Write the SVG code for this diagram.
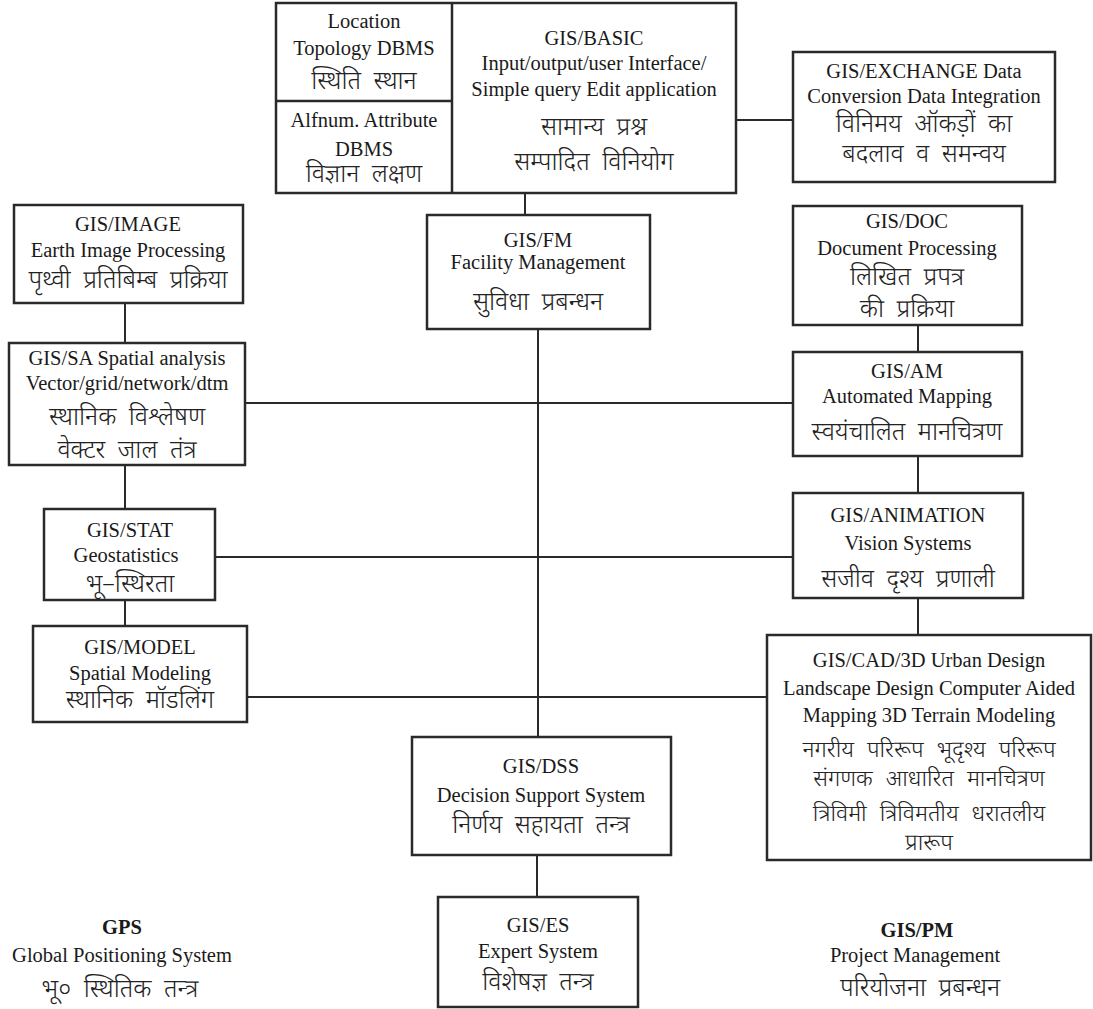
<svg xmlns="http://www.w3.org/2000/svg" width="1093" height="1009" viewBox="0 0 1093 1009">
<style>
.box{fill:#fff;stroke:#2a2a2a;stroke-width:2.5}
.ln{stroke:#2a2a2a;stroke-width:2;fill:none}
text{text-anchor:middle;fill:#1a1a1a}
.e{font-family:"Liberation Serif","Times New Roman",serif;font-size:20.5px}
.b{font-family:"Liberation Serif","Times New Roman",serif;font-size:20.5px;font-weight:bold}
.h{font-family:"Noto Sans Devanagari","Noto Serif Devanagari","Lohit Devanagari","Noto Sans",sans-serif;font-size:25px;font-weight:300;word-spacing:6px;fill:#222}
.hs{font-size:23px;word-spacing:7px}
</style>
<rect width="1093" height="1009" fill="#fff"/>
<g id="connectors">
<line class="ln" x1="525" y1="193" x2="525" y2="215"/>
<line class="ln" x1="538" y1="329" x2="538" y2="737"/>
<line class="ln" x1="537" y1="855" x2="537" y2="897"/>
<line class="ln" x1="736" y1="120" x2="793" y2="120"/>
<line class="ln" x1="125" y1="303" x2="125" y2="343"/>
<line class="ln" x1="125" y1="465" x2="125" y2="509"/>
<line class="ln" x1="125" y1="600" x2="125" y2="626"/>
<line class="ln" x1="918" y1="325" x2="918" y2="352"/>
<line class="ln" x1="918" y1="456" x2="918" y2="493"/>
<line class="ln" x1="918" y1="598" x2="918" y2="635"/>
<line class="ln" x1="245" y1="403" x2="793" y2="403"/>
<line class="ln" x1="215" y1="557" x2="793" y2="557"/>
<line class="ln" x1="247" y1="697" x2="767" y2="697"/>
</g>
<g id="basic">
<rect class="box" x="276" y="3" width="460" height="190"/>
<line class="ln" x1="452" y1="3" x2="452" y2="193" style="stroke-width:2.5"/>
<line class="ln" x1="276" y1="101" x2="452" y2="101" style="stroke-width:2.5"/>
<text class="e" x="364" y="28">Location</text>
<text class="e" x="364" y="55">Topology DBMS</text>
<text class="h" x="364" y="89">स्थिति स्थान</text>
<text class="e" x="364" y="127">Alfnum. Attribute</text>
<text class="e" x="364" y="156">DBMS</text>
<text class="h" x="364" y="182">विज्ञान लक्षण</text>
<text class="e" x="594" y="45">GIS/BASIC</text>
<text class="e" x="594" y="70">Input/output/user Interface/</text>
<text class="e" x="594" y="96">Simple query Edit application</text>
<text class="h" x="594" y="135">सामान्य प्रश्न</text>
<text class="h" x="594" y="170">सम्पादित विनियोग</text>
</g>
<g id="exchange">
<rect class="box" x="793" y="52" width="262" height="130"/>
<text class="e" x="924" y="78">GIS/EXCHANGE Data</text>
<text class="e" x="924" y="103">Conversion Data Integration</text>
<text class="h" x="924" y="132">विनिमय ऑकड़ों का</text>
<text class="h" x="924" y="162">बदलाव व समन्वय</text>
</g>
<g id="image">
<rect class="box" x="14" y="205" width="229" height="98"/>
<text class="e" x="128" y="231">GIS/IMAGE</text>
<text class="e" x="128" y="257">Earth Image Processing</text>
<text class="h" x="128" y="288">पृथ्वी प्रतिबिम्ब प्रक्रिया</text>
</g>
<g id="fm">
<rect class="box" x="427" y="215" width="223" height="114"/>
<text class="e" x="538" y="247">GIS/FM</text>
<text class="e" x="538" y="269">Facility Management</text>
<text class="h" x="538" y="310">सुविधा प्रबन्धन</text>
</g>
<g id="doc">
<rect class="box" x="793" y="206" width="229" height="119"/>
<text class="e" x="907" y="228">GIS/DOC</text>
<text class="e" x="907" y="255">Document Processing</text>
<text class="h" x="907" y="285">लिखित प्रपत्र</text>
<text class="h" x="907" y="317">की प्रक्रिया</text>
</g>
<g id="sa">
<rect class="box" x="9" y="343" width="236" height="122"/>
<text class="e" x="127" y="365">GIS/SA Spatial analysis</text>
<text class="e" x="127" y="390">Vector/grid/network/dtm</text>
<text class="h" x="127" y="425">स्थानिक विश्लेषण</text>
<text class="h" x="127" y="458">वेक्टर जाल तंत्र</text>
</g>
<g id="am">
<rect class="box" x="793" y="352" width="229" height="104"/>
<text class="e" x="907" y="378">GIS/AM</text>
<text class="e" x="907" y="403">Automated Mapping</text>
<text class="h" x="907" y="440">स्वयंचालित मानचित्रण</text>
</g>
<g id="stat">
<rect class="box" x="44" y="509" width="171" height="91"/>
<text class="e" x="130" y="537">GIS/STAT</text>
<text class="e" x="126" y="562">Geostatistics</text>
<text class="h" x="130" y="592">भू–स्थिरता</text>
</g>
<g id="animation">
<rect class="box" x="793" y="493" width="230" height="105"/>
<text class="e" x="908" y="522">GIS/ANIMATION</text>
<text class="e" x="908" y="550">Vision Systems</text>
<text class="h" x="908" y="587">सजीव दृश्य प्रणाली</text>
</g>
<g id="model">
<rect class="box" x="33" y="626" width="214" height="96"/>
<text class="e" x="140" y="654">GIS/MODEL</text>
<text class="e" x="140" y="680">Spatial Modeling</text>
<text class="h" x="140" y="708">स्थानिक मॉडलिंग</text>
</g>
<g id="cad">
<rect class="box" x="767" y="635" width="324" height="225"/>
<text class="e" x="929" y="667">GIS/CAD/3D Urban Design</text>
<text class="e" x="929" y="695">Landscape Design Computer Aided</text>
<text class="e" x="929" y="722">Mapping 3D Terrain Modeling</text>
<text class="h hs" x="929" y="757">नगरीय परिरूप भूदृश्य परिरूप</text>
<text class="h hs" x="929" y="786">संगणक आधारित मानचित्रण</text>
<text class="h hs" x="929" y="821">त्रिविमी त्रिविमतीय धरातलीय</text>
<text class="h hs" x="929" y="850">प्रारूप</text>
</g>
<g id="dss">
<rect class="box" x="412" y="737" width="259" height="118"/>
<text class="e" x="541" y="773">GIS/DSS</text>
<text class="e" x="541" y="802">Decision Support System</text>
<text class="h" x="541" y="833">निर्णय सहायता तन्त्र</text>
</g>
<g id="es">
<rect class="box" x="438" y="897" width="200" height="110"/>
<text class="e" x="538" y="932">GIS/ES</text>
<text class="e" x="538" y="958">Expert System</text>
<text class="h" x="538" y="990">विशेषज्ञ तन्त्र</text>
</g>
<g id="gps">
<text class="b" x="122" y="934">GPS</text>
<text class="e" x="122" y="962">Global Positioning System</text>
<text class="h" x="120" y="997">भू० स्थितिक तन्त्र</text>
</g>
<g id="pm">
<text class="b" x="917" y="937">GIS/PM</text>
<text class="e" x="915" y="962">Project Management</text>
<text class="h" x="920" y="996">परियोजना प्रबन्धन</text>
</g>
</svg>
